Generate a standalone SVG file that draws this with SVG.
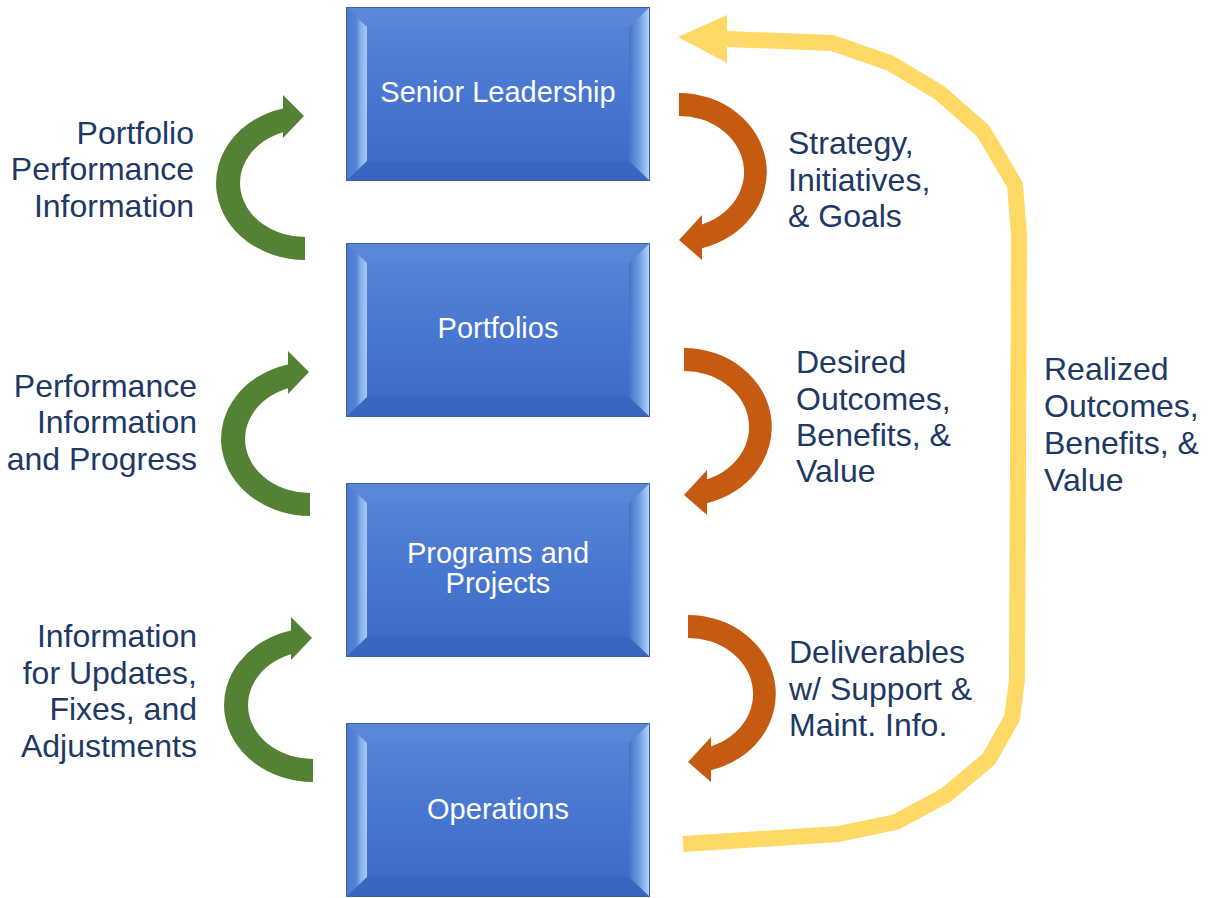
<svg xmlns="http://www.w3.org/2000/svg" xmlns:xlink="http://www.w3.org/1999/xlink" width="1210" height="898" viewBox="0 0 1210 898">
  <style>
    .lbl { font-family: "Liberation Sans", Arial, sans-serif; font-size: 32px; fill: #203864; }
    .lbl-r { text-anchor: end; }
    .box-text { font-family: "Liberation Sans", Arial, sans-serif; font-size: 29px; fill: #ffffff; text-anchor: middle; }
    .green { fill: #548235; }
    .orange { fill: #c55a11; }
    .yellow-line { fill: none; stroke: #ffd966; stroke-width: 16; stroke-linejoin: miter; stroke-linecap: butt; }
    .yellow-head { fill: #ffd966; }
  </style>
  <defs>
    <linearGradient id="faceGrad" x1="0" y1="0" x2="0" y2="1">
      <stop offset="0" stop-color="#5b86d7"/>
      <stop offset="0.5" stop-color="#4877d1"/>
      <stop offset="1" stop-color="#3b68c6"/>
    </linearGradient>
    <linearGradient id="leftBevel" x1="0" y1="0" x2="1" y2="0">
      <stop offset="0" stop-color="#4c76cb"/>
      <stop offset="0.5" stop-color="#5884d5"/>
      <stop offset="0.7" stop-color="#86b0ea"/>
      <stop offset="1" stop-color="#a6cbf5"/>
    </linearGradient>
    <linearGradient id="rightBevel" x1="0" y1="0" x2="1" y2="0">
      <stop offset="0" stop-color="#4673c8"/>
      <stop offset="0.45" stop-color="#6a97de"/>
      <stop offset="1" stop-color="#b6d9fb"/>
    </linearGradient>
    <!-- bevelled blue block, 304 x 174 -->
    <g id="bevelBox">
      <rect x="0" y="0" width="304" height="174" fill="url(#faceGrad)"/>
      <polygon points="0,0 304,0 283,20 21,20" fill="#5d88d8" opacity="0.6"/>
      <polygon points="0,174 304,174 283,154 21,154" fill="#3862bc" opacity="0.6"/>
      <polygon points="0,0 21,20 21,154 0,174" fill="url(#leftBevel)"/>
      <polygon points="304,0 283,20 283,154 304,174" fill="url(#rightBevel)"/>
      <rect x="0.5" y="0.5" width="303" height="173" fill="none" stroke="#3c5fa6" stroke-width="1"/>
    </g>
  </defs>

  <!-- nodes -->
  <g id="senior-leadership">
    <use xlink:href="#bevelBox" x="346" y="7"/>
    <text class="box-text" x="498" y="102">Senior Leadership</text>
  </g>
  <g id="portfolios">
    <use xlink:href="#bevelBox" x="346" y="243"/>
    <text class="box-text" x="498" y="338">Portfolios</text>
  </g>
  <g id="programs-projects">
    <use xlink:href="#bevelBox" x="346" y="483"/>
    <text class="box-text" x="498" y="563">Programs and</text>
    <text class="box-text" x="498" y="593">Projects</text>
  </g>
  <g id="operations">
    <use xlink:href="#bevelBox" x="346" y="723"/>
    <text class="box-text" x="498" y="819">Operations</text>
  </g>

  <!-- connectors -->
  <g id="connectors">
    <!-- upward feedback (green curved arrows) -->
    <path class="green" d="M305,260 A89,77 0 0 1 283,108.4 L283,95 L304,116 L283,138 L283,132.2 A65,54 0 0 0 305,237 Z"/>
    <path class="green" d="M310,516 A89,77 0 0 1 288,364.4 L288,351 L309,372 L288,394 L288,388.2 A65,54 0 0 0 310,493 Z"/>
    <path class="green" d="M313,782 A89,77 0 0 1 291,630.4 L291,617 L312,638 L291,660 L291,654.2 A65,54 0 0 0 313,759 Z"/>
    <!-- downward direction (orange curved arrows) -->
    <path class="orange" d="M679,93 A88,79 0 0 1 702,248.2 L702,260 L679,240 L702,215 L702,224.4 A65,56 0 0 0 679,116 Z"/>
    <path class="orange" d="M684,348 A88,79 0 0 1 707,503.2 L707,515 L684,495 L707,470 L707,479.4 A65,56 0 0 0 684,371 Z"/>
    <path class="orange" d="M688,615 A88,79 0 0 1 711,770.2 L711,782 L688,762 L711,737 L711,746.4 A65,56 0 0 0 688,638 Z"/>
    <!-- realized value loop (yellow) -->
    <polyline class="yellow-line" points="683,844 838,834 896,822 946,795 989,759 1012,718 1017,680 1019,235 1015,185 983,131 940,93 890,63 832,43 726,39"/>
    <polygon class="yellow-head" points="678,37 727,15 727,63"/>
  </g>

  <!-- labels -->
  <g id="labels">
    <text class="lbl lbl-r" x="194" y="144">Portfolio</text>
    <text class="lbl lbl-r" x="194" y="180">Performance</text>
    <text class="lbl lbl-r" x="194" y="217">Information</text>

    <text class="lbl lbl-r" x="197" y="397">Performance</text>
    <text class="lbl lbl-r" x="197" y="433">Information</text>
    <text class="lbl lbl-r" x="197" y="470">and Progress</text>

    <text class="lbl lbl-r" x="197" y="647">Information</text>
    <text class="lbl lbl-r" x="197" y="684">for Updates,</text>
    <text class="lbl lbl-r" x="197" y="720">Fixes, and</text>
    <text class="lbl lbl-r" x="197" y="757">Adjustments</text>

    <text class="lbl" x="788" y="154">Strategy,</text>
    <text class="lbl" x="788" y="191">Initiatives,</text>
    <text class="lbl" x="788" y="227">&amp; Goals</text>

    <text class="lbl" x="796" y="373">Desired</text>
    <text class="lbl" x="796" y="410">Outcomes,</text>
    <text class="lbl" x="796" y="446">Benefits, &amp;</text>
    <text class="lbl" x="796" y="482">Value</text>

    <text class="lbl" x="789" y="663">Deliverables</text>
    <text class="lbl" x="789" y="700">w/ Support &amp;</text>
    <text class="lbl" x="789" y="736">Maint. Info.</text>

    <text class="lbl" x="1044" y="380">Realized</text>
    <text class="lbl" x="1044" y="417">Outcomes,</text>
    <text class="lbl" x="1044" y="454">Benefits, &amp;</text>
    <text class="lbl" x="1044" y="491">Value</text>
  </g>
</svg>
